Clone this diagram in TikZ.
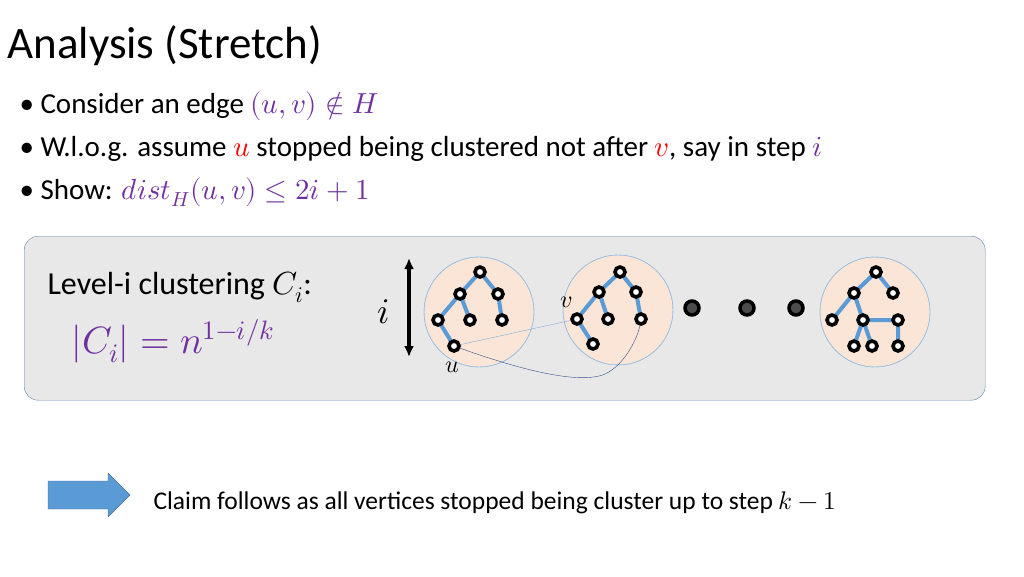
\documentclass[tikz,border=0pt]{standalone}
\usepackage{amsmath}
\usepackage{unicode-math}
\setmainfont{Carlito}
\setmathfont{Latin Modern Math}
\usetikzlibrary{arrows.meta}
\definecolor{mpurple}{RGB}{112,48,160}
\definecolor{tblue}{RGB}{91,155,213}
\definecolor{peach}{RGB}{251,229,214}
\definecolor{boxgray}{RGB}{232,232,232}
\definecolor{boxline}{RGB}{100,130,170}
\definecolor{curveblue}{RGB}{50,80,140}
\begin{document}
\begin{tikzpicture}[x=1pt,y=-1pt]
    \tikzstyle{vtx}=[circle,draw=black,line width=3.6pt,fill=white,inner sep=0pt,minimum size=10pt]
    \tikzstyle{tedge}=[tblue,line width=4pt]
    \tikzstyle{cluster}=[fill=peach,draw=tblue!70,thin]
    \tikzstyle{bigdot}=[circle,draw=black,line width=3.5pt,fill=black!70,inner sep=0pt,minimum size=14pt]
    \tikzstyle{bullet}=[anchor=west,font=\fontsize{29}{32}\selectfont]
    \useasboundingbox (0,0) rectangle (1024,576);
    % title and bullets
    \node[anchor=west,font=\fontsize{45}{50}\selectfont] (title) at (4,46) {Analysis (Stretch)};
    \node[bullet] (b1) at (16,106) {\textbullet\ Consider an edge \textcolor{mpurple}{$(u,v)\notin H$}};
    \node[bullet] (b2) at (16,149) {\textbullet\ W.l.o.g. assume \textcolor{red}{$u$} stopped being clustered not after \textcolor{red}{$v$}, say in step \textcolor{mpurple}{$i$}};
    \node[bullet] (b3) at (16,192) {\textbullet\ Show: \textcolor{mpurple}{$dist_H(u,v)\le 2i+1$}};
    % box
    \node[draw=boxline,fill=boxgray,rounded corners=14pt,minimum width=961pt,minimum height=164pt,anchor=north west] (box) at (24,236) {};
    \node[anchor=west,font=\fontsize{32}{36}\selectfont] (lvl) at (44,287) {Level-i clustering $C_i$:};
    \node[anchor=west,font=\fontsize{38}{44}\selectfont,mpurple] (size) at (68,341) {$|C_i|=n^{1-i/k}$};
    \draw[{Latex[length=11pt,width=10pt]}-{Latex[length=11pt,width=10pt]},line width=3.5pt] (409,258) -- (409,357);
    \node[font=\fontsize{36}{40}\selectfont] (ilab) at (384,312) {$i$};
    % clusters
    \fill[cluster] (479,312) circle (55);
    \fill[cluster] (618,310) circle (55);
    \fill[cluster] (875,312) circle (55);
    \draw[cluster,fill=none] (479,312) circle (55) (618,310) circle (55) (875,312) circle (55);
    % cluster 1
    \coordinate (a1) at (480,272); \coordinate (a2) at (460,294); \coordinate (a3) at (498,294);
    \coordinate (a4) at (438,320); \coordinate (a5) at (470,320); \coordinate (a6) at (502,320);
    \coordinate (u) at (454,346);
    \draw[tedge] (a1) -- (a2) -- (a4) -- (u) (a2) -- (a5) (a1) -- (a3) -- (a6);
    % cluster 2
    \coordinate (c1) at (620,272); \coordinate (c2) at (599,292); \coordinate (c3) at (636,292);
    \coordinate (v) at (577,319); \coordinate (c5) at (608,319); \coordinate (c6) at (641,319);
    \coordinate (c7) at (593,344);
    \draw[tedge] (c1) -- (c2) -- (v) -- (c7) (c2) -- (c5) (c1) -- (c3) -- (c6);
    % cluster 3
    \coordinate (d1) at (876,272); \coordinate (d2) at (854,293); \coordinate (d3) at (893,293);
    \coordinate (d4) at (832,320); \coordinate (d5) at (863,320); \coordinate (d6) at (898,320);
    \coordinate (d7) at (854,346); \coordinate (d8) at (872,346); \coordinate (d9) at (898,346);
    \draw[tedge] (d1) -- (d2) -- (d4) (d2) -- (d5) -- (d6) -- (d9) (d5) -- (d7) (d5) -- (d8) (d1) -- (d3);
    % connectors u-v
    \draw[tblue!80,thin] (u) -- (v);
    \draw[curveblue,thin] (u) .. controls (520,370) and (580,385) .. (605,374) .. controls (625,365) and (640,335) .. (c6);
    \foreach \p in {a1,a2,a3,a4,a5,a6,u,c1,c2,c3,v,c5,c6,c7,d1,d2,d3,d4,d5,d6,d7,d8,d9}
        \node[vtx] at (\p) {};
    \node[font=\fontsize{24}{28}\selectfont] (ulab) at (452,367) {$u$};
    \node[font=\fontsize{24}{28}\selectfont] (vlab) at (566,302) {$v$};
    \foreach \x in {692,747,796}
        \node[bigdot] at (\x,308) {};
    % claim
    \fill[tblue,draw=tblue!70!black] (48,481) -- (108,481) -- (108,473) -- (130,495) -- (108,517) -- (108,509) -- (48,509) -- cycle;
    \node[anchor=west,font=\fontsize{25.5}{28}\selectfont] (claim) at (150,503) {Claim follows as all vertices stopped being cluster up to step $k-1$};
\end{tikzpicture}
\end{document}
